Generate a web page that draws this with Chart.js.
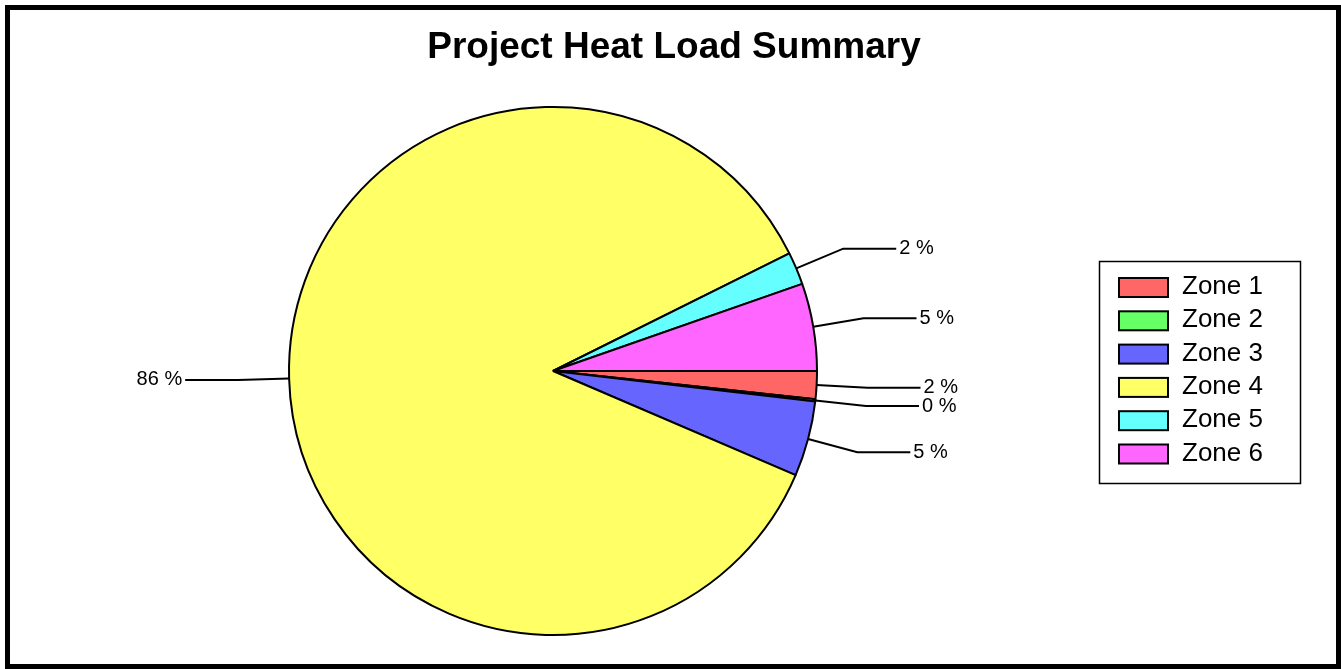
<!DOCTYPE html>
<html lang="en">
  <head>
    <meta charset="UTF-8" />
    <title>Project Heat Load Summary</title>
    <script src="https://cdn.jsdelivr.net/npm/chart.js"></script>
    <style>
      body { margin: 0; background: #fff; }
      .quadro {
        position: absolute; left: 5px; top: 5px; width: 1336px; height: 664px;
        box-sizing: border-box; border: 5px solid #000; pointer-events: none;
      }
      #pizza { position: absolute; left: 0; top: 0; }
    </style>
  </head>
  <body>
    <canvas id="pizza" width="1341" height="669"></canvas>
    <div class="quadro"></div>
  </body>
</html>
<script>
  // dados (carga termica por zona)
  const zonas = ["Zone 1", "Zone 2", "Zone 3", "Zone 4", "Zone 5", "Zone 6"]
  const cargas = [1.7, 0.15, 4.6, 86.2, 2.0, 5.35]
  const cores = ["#ff6666", "#66ff66", "#6666ff", "#ffff66", "#66ffff", "#ff66ff"]
  const titulo = "Project Heat Load Summary"

  const fonte = '"Liberation Sans", Arial, sans-serif'

  // titulo, linhas de chamada com % e legenda desenhados depois do grafico
  const extras = {
    id: "extras",
    afterDraw(chart) {
      const ctx = chart.ctx
      ctx.save()

      ctx.fillStyle = "#000"
      ctx.font = "bold 37px " + fonte
      ctx.textAlign = "center"
      ctx.textBaseline = "middle"
      ctx.fillText(titulo, 674, 48)

      const total = cargas.reduce((a, b) => a + b, 0)
      const meta = chart.getDatasetMeta(0)
      ctx.font = "20px " + fonte
      ctx.lineWidth = 2
      ctx.strokeStyle = "#000"
      meta.data.forEach((arco, i) => {
        const p = arco.getProps(["x", "y", "startAngle", "endAngle", "outerRadius"], true)
        const meio = (p.startAngle + p.endAngle) / 2
        const cos = Math.cos(meio)
        const sin = Math.sin(meio)
        const x1 = p.x + p.outerRadius * cos
        const y1 = p.y + p.outerRadius * sin
        const x2 = p.x + p.outerRadius * 1.193 * cos
        const y2 = p.y + p.outerRadius * 1.193 * sin
        const lado = cos >= 0 ? 1 : -1
        const x3 = x2 + lado * 53
        ctx.beginPath()
        ctx.moveTo(x1, y1)
        ctx.lineTo(x2, y2)
        ctx.lineTo(x3, y2)
        ctx.stroke()
        ctx.textAlign = lado > 0 ? "left" : "right"
        ctx.fillText(Math.round((cargas[i] / total) * 100) + " %", x3 + lado * 3, y2)
      })

      // legenda
      ctx.lineWidth = 1.5
      ctx.strokeRect(1099.5, 261.5, 201, 222)
      ctx.font = "26px " + fonte
      ctx.textAlign = "left"
      zonas.forEach((z, i) => {
        const y = 277 + i * 33.3
        ctx.fillStyle = cores[i]
        ctx.fillRect(1119, y + 1, 49, 19)
        ctx.lineWidth = 2
        ctx.strokeRect(1119, y + 1, 49, 19)
        ctx.fillStyle = "#000"
        ctx.fillText(z, 1182, y + 10)
      })
      ctx.restore()
    },
  }

  const grafico = document.getElementById("pizza")
  let pizza = new Chart(grafico, {
    type: "pie",
    data: {
      labels: zonas,
      datasets: [
        {
          data: cargas,
          backgroundColor: cores,
          borderColor: "#000",
          borderWidth: 2,
        },
      ],
    },
    options: {
      responsive: false,
      animation: false,
      rotation: 90,
      radius: 264,
      layout: {
        padding: { left: 280, right: 515, top: 100, bottom: 27 },
      },
      plugins: {
        legend: { display: false },
        tooltip: { enabled: false },
      },
    },
    plugins: [extras],
  })
</script>
